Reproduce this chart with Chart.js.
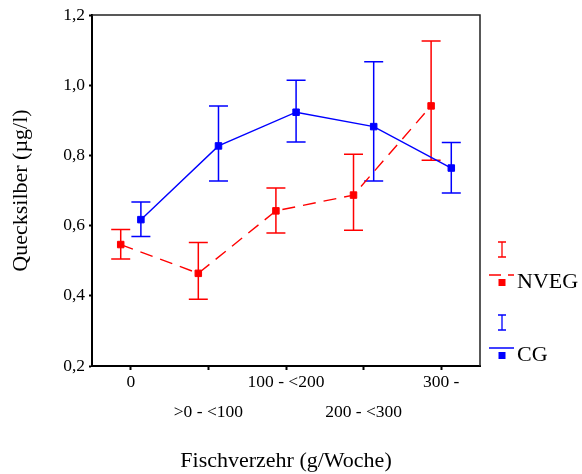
<!DOCTYPE html>
<html>
<head>
<meta charset="utf-8">
<script src="https://cdn.jsdelivr.net/npm/chart.js@4.4.1/dist/chart.umd.min.js"></script>
<style>
  body { margin: 0; background: #fff; }
  #wrap { width: 582px; height: 474px; }
</style>
</head>
<body>
<div id="wrap"><canvas id="chart"></canvas></div>
<script>
// Daten
const categories = ['0', '>0 - <100', '100 - <200', '200 - <300', '300 -'];
const yTickLabels = ['0,2', '0,4', '0,6', '0,8', '1,0', '1,2'];
const seriesNames = ['NVEG', 'CG'];

const nvegMean = [0.546, 0.464, 0.642, 0.687, 0.941];
const nvegLow  = [0.505, 0.390, 0.579, 0.587, 0.786];
const nvegHigh = [0.589, 0.552, 0.707, 0.803, 1.126];

const cgMean = [0.617, 0.827, 0.923, 0.882, 0.764];
const cgLow  = [0.569, 0.727, 0.838, 0.727, 0.693];
const cgHigh = [0.667, 0.941, 1.014, 1.067, 0.837];

const RED = '#ff0000';
const BLUE = '#0000ff';
const FONT = "'Liberation Serif', 'Times New Roman', serif";
const SHIFT = 0.13; // seitlicher Versatz der beiden Gruppen

function points(values, shift) {
  return values.map((v, i) => ({ x: i + shift, y: v }));
}

// Fehlerbalken (Konfidenzintervalle)
const errorBars = {
  id: 'errorBars',
  beforeDatasetsDraw(chart) {
    const { ctx, scales: { x, y } } = chart;
    const sets = [
      { low: nvegLow, high: nvegHigh, shift: -SHIFT, color: RED },
      { low: cgLow, high: cgHigh, shift: SHIFT, color: BLUE }
    ];
    ctx.save();
    ctx.lineWidth = 1.5;
    sets.forEach(s => {
      ctx.strokeStyle = s.color;
      s.low.forEach((lo, i) => {
        const px = x.getPixelForValue(i + s.shift);
        const p1 = y.getPixelForValue(lo);
        const p2 = y.getPixelForValue(s.high[i]);
        ctx.beginPath();
        ctx.moveTo(px, p1); ctx.lineTo(px, p2);
        ctx.moveTo(px - 9.5, p1); ctx.lineTo(px + 9.5, p1);
        ctx.moveTo(px - 9.5, p2); ctx.lineTo(px + 9.5, p2);
        ctx.stroke();
      });
    });
    ctx.restore();
  }
};

// Rahmen oben und rechts
const frame = {
  id: 'frame',
  afterDraw(chart) {
    const { ctx, chartArea: a } = chart;
    ctx.save();
    ctx.strokeStyle = '#222';
    ctx.lineWidth = 1.5;
    ctx.beginPath();
    ctx.moveTo(a.left, a.top);
    ctx.lineTo(a.right, a.top);
    ctx.lineTo(a.right, a.bottom);
    ctx.stroke();
    ctx.restore();
  }
};

// Legende rechts
const sideLegend = {
  id: 'sideLegend',
  afterDraw(chart) {
    const { ctx } = chart;
    const items = [
      { name: seriesNames[0], color: RED, dash: [12, 7], top: 242 },
      { name: seriesNames[1], color: BLUE, dash: [], top: 315 }
    ];
    ctx.save();
    items.forEach(it => {
      const cx = 502;
      ctx.strokeStyle = it.color;
      ctx.lineWidth = 1.3;
      ctx.setLineDash([]);
      ctx.beginPath();
      ctx.moveTo(cx, it.top); ctx.lineTo(cx, it.top + 15);
      ctx.moveTo(cx - 4, it.top); ctx.lineTo(cx + 4, it.top);
      ctx.moveTo(cx - 4, it.top + 15); ctx.lineTo(cx + 4, it.top + 15);
      ctx.stroke();
      const ly = it.top + 33;
      ctx.lineWidth = 1.5;
      ctx.setLineDash(it.dash);
      ctx.beginPath();
      ctx.moveTo(489, ly); ctx.lineTo(514, ly);
      ctx.stroke();
      ctx.setLineDash([]);
      ctx.fillStyle = it.color;
      ctx.fillRect(cx - 3.5, ly + 4, 7, 7);
      ctx.fillStyle = '#000';
      ctx.font = '22px ' + FONT;
      ctx.textBaseline = 'middle';
      ctx.fillText(it.name, 517, ly + 7);
    });
    ctx.restore();
  }
};

const ctx = document.getElementById('chart').getContext('2d');
const chart = new Chart(ctx, {
  type: 'line',
  data: {
    datasets: [
      {
        label: seriesNames[0],
        data: points(nvegMean, -SHIFT),
        borderColor: RED,
        backgroundColor: RED,
        borderWidth: 1.4,
        borderDash: [13, 8],
        pointStyle: 'rect',
        pointRadius: 4.6,
        pointBorderWidth: 1,
        fill: false
      },
      {
        label: seriesNames[1],
        data: points(cgMean, SHIFT),
        borderColor: BLUE,
        backgroundColor: BLUE,
        borderWidth: 1.4,
        pointStyle: 'rect',
        pointRadius: 4.6,
        pointBorderWidth: 1,
        fill: false
      }
    ]
  },
  options: {
    responsive: true,
    maintainAspectRatio: false,
    animation: false,
    layout: { padding: { left: 0, right: 102, top: 15, bottom: 0 } },
    plugins: {
      legend: { display: false },
      tooltip: { enabled: false }
    },
    scales: {
      x: {
        type: 'linear',
        min: -0.5,
        max: 4.5,
        afterBuildTicks(scale) {
          scale.ticks = categories.map((c, i) => ({ value: i }));
        },
        afterFit(scale) { scale.height = 108; },
        ticks: {
          color: '#000',
          font: { family: FONT, size: 17.5, lineHeight: '30px' },
          padding: -3,
          maxRotation: 0,
          autoSkip: false,
          callback: (v, i) => (i % 2 === 0 ? categories[i] : ['', categories[i]])
        },
        grid: { drawOnChartArea: false, drawTicks: true, tickLength: 4, tickWidth: 2, tickColor: '#000' },
        border: { display: true, color: '#000', width: 2 },
        title: {
          display: true,
          text: 'Fischverzehr (g/Woche)',
          color: '#000',
          font: { family: FONT, size: 22 },
          padding: { top: 0, bottom: 0 }
        }
      },
      y: {
        min: 0.2,
        max: 1.2,
        afterFit(scale) { scale.width = 92; },
        ticks: {
          stepSize: 0.2,
          color: '#000',
          padding: 4,
          font: { family: FONT, size: 17.5 },
          callback: (v, i) => yTickLabels[i]
        },
        grid: { drawOnChartArea: false, drawTicks: true, tickLength: 3, tickWidth: 2, tickColor: '#000' },
        border: { display: true, color: '#000', width: 2 },
        title: {
          display: true,
          text: 'Quecksilber (µg/l)',
          color: '#000',
          font: { family: FONT, size: 22 },
          padding: { top: 8, bottom: 0 }
        }
      }
    }
  },
  plugins: [errorBars, frame, sideLegend]
});
</script>
</body>
</html>
